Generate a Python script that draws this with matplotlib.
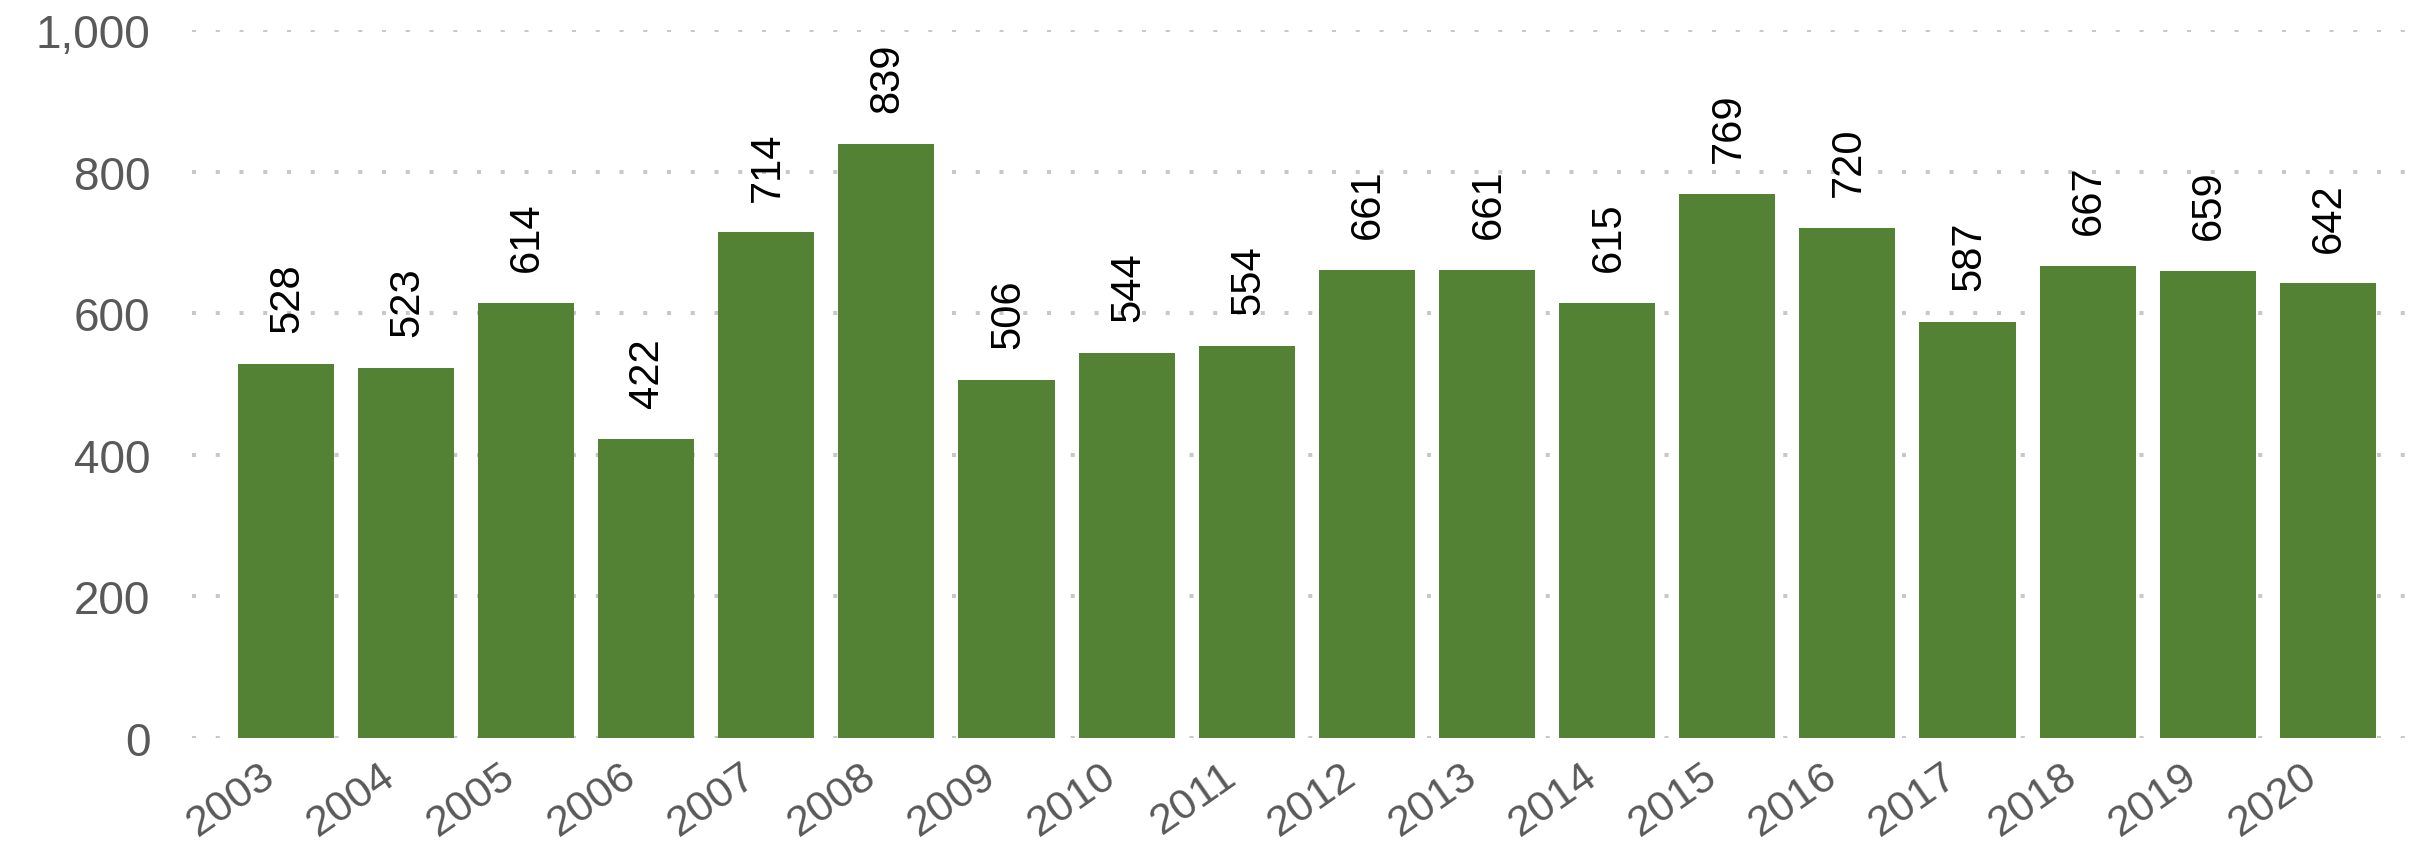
import matplotlib
matplotlib.use("Agg")
import matplotlib.pyplot as plt
from matplotlib.ticker import FuncFormatter
from matplotlib.transforms import ScaledTranslation

years = ["2003", "2004", "2005", "2006", "2007", "2008", "2009", "2010", "2011",
         "2012", "2013", "2014", "2015", "2016", "2017", "2018", "2019", "2020"]
values = [528, 523, 614, 422, 714, 839, 506, 544, 554,
          661, 661, 615, 769, 720, 587, 667, 659, 642]
y_ticks = [0, 200, 400, 600, 800, 1000]

plt.rcParams['font.family'] = ['Liberation Sans', 'DejaVu Sans']
plt.rcParams['lines.scale_dashes'] = False

fig = plt.figure(figsize=(24.12, 8.54), dpi=100)
ax = fig.add_axes([192/2412, 1 - 739/854, 1 - 192/2412, (739 - 31)/854])

x = list(range(len(years)))
bars = ax.bar(x, values, width=0.8, color="#548235", zorder=2)

for xi, v in zip(x, values):
    ax.annotate(f"{v}", xy=(xi, v), xytext=(1, 23), textcoords="offset points",
                rotation=90, ha="center", va="bottom", fontsize=30, color="black")

ax.set_ylim(0, 1000)
ax.set_xlim(-0.78, len(years) - 1 + 0.7)
ax.set_yticks(y_ticks)
ax.yaxis.set_major_formatter(FuncFormatter(lambda v, p: f"{int(v):,}"))
ax.set_xticks(x)
ax.set_xticklabels(years, rotation=35, ha="right", rotation_mode="anchor")

ax.tick_params(axis="y", length=0, labelsize=33, labelcolor="#595959", pad=30)
ax.tick_params(axis="x", length=0, labelsize=31.3, labelcolor="#595959", pad=12)

shift = ScaledTranslation(-26/100, 0, fig.dpi_scale_trans)
for lab in ax.get_xticklabels():
    lab.set_transform(lab.get_transform() + shift)

ax.grid(axis="y", color="#c8c8c8", linewidth=2.9, linestyle=(0, (2.9, 14.2)), zorder=1)
ax.set_axisbelow(True)
for s in ax.spines.values():
    s.set_visible(False)

fig.savefig("out.png", dpi=100)
